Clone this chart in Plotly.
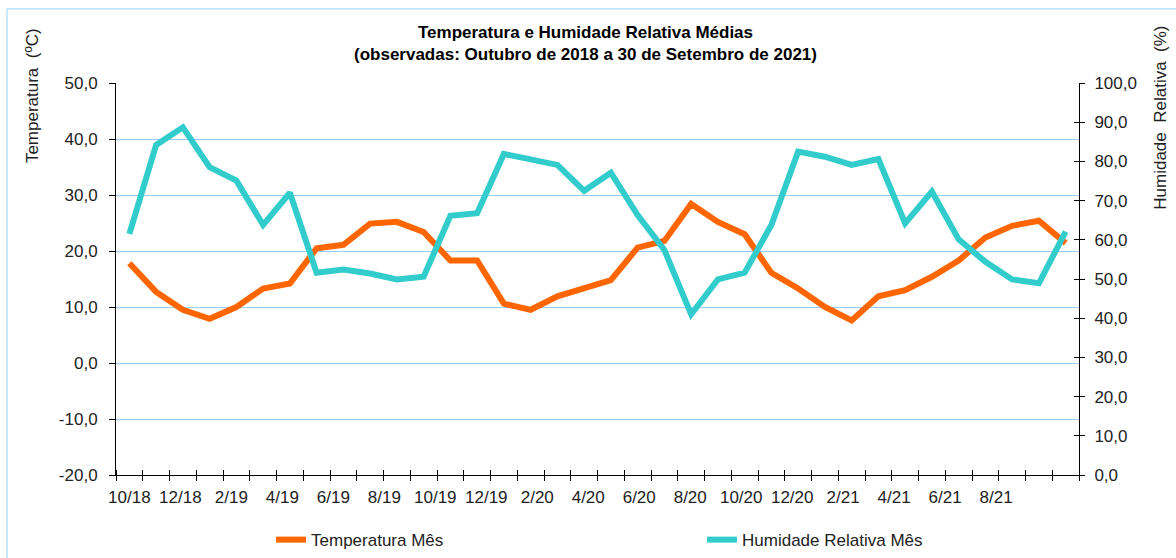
"""Temperatura e Humidade Relativa Médias - monthly means, Oct 2018 to Sep 2021."""

import plotly.graph_objects as go

# === Data ===
months = [
    "10/18", "11/18", "12/18", "1/19", "2/19", "3/19", "4/19", "5/19", "6/19",
    "7/19", "8/19", "9/19", "10/19", "11/19", "12/19", "1/20", "2/20", "3/20",
    "4/20", "5/20", "6/20", "7/20", "8/20", "9/20", "10/20", "11/20", "12/20",
    "1/21", "2/21", "3/21", "4/21", "5/21", "6/21", "7/21", "8/21", "9/21",
]

temperatura = [
    17.8, 12.7, 9.5, 7.9, 10.0, 13.3, 14.2, 20.5, 21.1,
    24.9, 25.2, 23.4, 18.3, 18.3, 10.6, 9.5, 11.9, 13.3,
    14.8, 20.6, 21.8, 28.4, 25.2, 23.0, 16.1, 13.3, 10.0,
    7.6, 11.9, 13.0, 15.4, 18.3, 22.4, 24.5, 25.4, 21.4,
]

humidade = [
    61.5, 84.2, 88.7, 78.5, 75.1, 63.8, 72.0, 51.6, 52.4,
    51.4, 49.9, 50.6, 66.1, 66.8, 81.9, 80.6, 79.1, 72.5,
    77.1, 66.3, 57.4, 41.0, 49.9, 51.6, 63.8, 82.5, 81.2,
    79.1, 80.6, 64.2, 72.3, 60.1, 54.4, 49.9, 48.9, 62.1,
]

x_tick_labels = [
    "10/18", "12/18", "2/19", "4/19", "6/19", "8/19", "10/19", "12/19", "2/20",
    "4/20", "6/20", "8/20", "10/20", "12/20", "2/21", "4/21", "6/21", "8/21",
]

temp_ticks = [-20, -10, 0, 10, 20, 30, 40, 50]
temp_tick_labels = ["-20,0", "-10,0", "0,0", "10,0", "20,0", "30,0", "40,0", "50,0"]

hum_ticks = [0, 10, 20, 30, 40, 50, 60, 70, 80, 90, 100]
hum_tick_labels = ["0,0", "10,0", "20,0", "30,0", "40,0", "50,0",
                   "60,0", "70,0", "80,0", "90,0", "100,0"]

# === Style ===
FONT = "Liberation Sans, Arial, sans-serif"
TEXT = "#222222"
GRID = "#99CCFF"
ORANGE = "#FF6600"
CYAN = "#33CCCC"

idx = list(range(len(months)))
# labels in the original sit a little tighter than every 2nd month
label_pos = [k * 1.906 for k in range(len(x_tick_labels))]

fig = go.Figure()

fig.add_trace(go.Scatter(
    x=idx, y=temperatura, customdata=months,
    mode="lines", name="Temperatura Mês",
    line=dict(color=ORANGE, width=6),
    hovertemplate="%{customdata}<br>%{y:.1f} ºC<extra></extra>",
))

fig.add_trace(go.Scatter(
    x=idx, y=humidade, customdata=months,
    mode="lines", name="Humidade Relativa Mês",
    line=dict(color=CYAN, width=6),
    yaxis="y2",
    hovertemplate="%{customdata}<br>%{y:.1f} %<extra></extra>",
))

# empty traces so the overlay axes (inner half of the cross ticks) get drawn
fig.add_trace(go.Scatter(x=[None], y=[None], xaxis="x2", yaxis="y",
                         showlegend=False, hoverinfo="skip"))
fig.add_trace(go.Scatter(x=[None], y=[None], xaxis="x", yaxis="y3",
                         showlegend=False, hoverinfo="skip"))

xrange = [-0.5, len(months) - 0.5]

fig.update_layout(
    width=1176,
    height=558,
    margin=dict(l=116, r=97, t=83, b=83, autoexpand=False),
    paper_bgcolor="#ffffff",
    plot_bgcolor="#ffffff",
    font=dict(family=FONT, size=17, color=TEXT),
    xaxis=dict(
        range=xrange,
        tickmode="array",
        tickvals=label_pos,
        ticktext=x_tick_labels,
        ticks="",
        showgrid=False,
        zeroline=False,
        showline=True,
        linecolor="#000000",
        linewidth=1,
        ticklabelstandoff=7,
        tickfont=dict(size=17, color=TEXT),
        minor=dict(tickmode="linear", tick0=-0.5, dtick=1, ticks="outside",
                   ticklen=5, tickcolor="#000000", showgrid=False),
    ),
    xaxis2=dict(
        range=xrange,
        overlaying="x",
        anchor="y",
        side="bottom",
        showticklabels=False,
        ticks="",
        showgrid=False,
        zeroline=False,
        minor=dict(tickmode="linear", tick0=-0.5, dtick=1, ticks="inside",
                   ticklen=5, tickcolor="#000000", showgrid=False),
    ),
    yaxis=dict(
        range=[-20, 50],
        tickmode="array",
        tickvals=temp_ticks,
        ticktext=temp_tick_labels,
        ticks="outside",
        ticklen=6,
        tickcolor="#000000",
        showgrid=True,
        gridcolor=GRID,
        gridwidth=1,
        zeroline=False,
        showline=True,
        linecolor="#000000",
        linewidth=1,
        ticklabelstandoff=8,
        tickfont=dict(size=17, color=TEXT),
    ),
    yaxis2=dict(
        range=[0, 100],
        overlaying="y",
        side="right",
        tickmode="array",
        tickvals=hum_ticks,
        ticktext=hum_tick_labels,
        ticks="outside",
        ticklen=5,
        tickcolor="#000000",
        showgrid=False,
        zeroline=False,
        showline=True,
        linecolor="#000000",
        linewidth=1,
        ticklabelstandoff=6,
        tickfont=dict(size=17, color=TEXT),
    ),
    yaxis3=dict(
        range=[0, 100],
        overlaying="y",
        side="right",
        tickmode="array",
        tickvals=hum_ticks,
        ticks="inside",
        ticklen=5,
        tickcolor="#000000",
        showticklabels=False,
        showgrid=False,
        zeroline=False,
    ),
    legend=dict(
        orientation="h",
        x=0.161, xanchor="left",
        y=-0.166, yanchor="middle",
        entrywidth=386, entrywidthmode="pixels",
        font=dict(size=17, color=TEXT),
        bgcolor="rgba(0,0,0,0)",
    ),
    hovermode="x unified",
    annotations=[
        dict(text="<b>Temperatura e Humidade Relativa Médias</b><br>"
                  "<b>(observadas: Outubro de 2018 a 30 de Setembro de 2021)</b>",
             xref="paper", yref="paper", x=0.488, y=1.158,
             xanchor="center", yanchor="top", showarrow=False,
             font=dict(size=17, color="#000000")),
        dict(text="Temperatura  (ºC)", textangle=-90,
             xref="paper", yref="paper", x=-0.086, y=0.967,
             xanchor="center", yanchor="middle", showarrow=False,
             font=dict(size=17, color=TEXT)),
        dict(text="Humidade  Relativa  (%)", textangle=-90,
             xref="paper", yref="paper", x=1.085, y=0.911,
             xanchor="center", yanchor="middle", showarrow=False,
             font=dict(size=17, color=TEXT)),
    ],
    shapes=[
        # chart-area border, runs off the right and bottom edge like the original
        dict(type="rect", xref="paper", yref="paper",
             x0=-0.1132, x1=1.2, y0=-0.4, y1=1.189,
             line=dict(color=GRID, width=1), layer="below"),
    ],
)

# drop the default body margin so the figure sits at the page corner
fig.write_html(
    "out.html",
    config={"displayModeBar": False},
    post_script="document.body.style.margin='0';",
)
